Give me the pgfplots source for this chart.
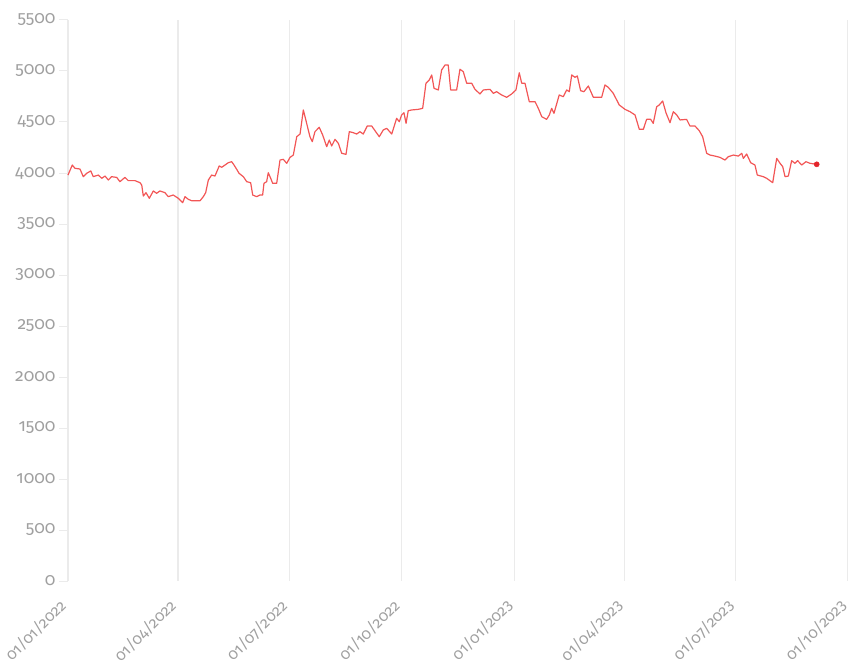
\documentclass[border=0pt]{standalone}
\usepackage{pgfplots}
\pgfplotsset{compat=1.18}
\usepackage{pgfplotstable}
\usepackage{fontspec}
\setmainfont{Fira Sans}[Numbers=OldStyle]
\definecolor{lineRed}{HTML}{F25656}
\definecolor{dotRed}{HTML}{E3242B}
\definecolor{tickGray}{HTML}{A0A0A0}
\definecolor{gridGray}{HTML}{EBEBEB}
\pgfplotstableread{
day value
0 3980
3.5 4078
5.7 4046
9.8 4039
12.5 3964
15.3 3997
18.6 4020
20.7 3964
24.8 3980
27.6 3948
30.3 3970
33.0 3931
35.7 3964
39.8 3957
42.5 3915
46.6 3957
49.3 3925
54.8 3925
58.9 3905
60.3 3882
61.6 3774
63.8 3807
66.5 3752
69.8 3824
72.5 3801
75.2 3824
79.3 3807
82.0 3768
86.1 3784
90.2 3752
93.8 3709
95.7 3768
98.4 3742
101.2 3728
108.0 3728
110.7 3768
112.6 3807
114.8 3931
117.5 3980
120.2 3970
123.7 4069
125.7 4056
128.4 4078
131.1 4101
133.9 4111
135.8 4078
138.0 4036
139.9 3997
143.4 3964
146.2 3915
149.4 3905
151.1 3784
154.3 3768
157.0 3784
159.2 3784
160.3 3899
162.5 3915
163.8 4003
165.8 3948
167.4 3899
170.7 3899
173.4 4127
176.1 4134
178.9 4095
181.6 4153
184.3 4176
187.1 4356
189.8 4382
192.5 4618
195.2 4487
197.9 4356
199.8 4307
202.0 4405
205.5 4448
208.3 4373
211.6 4258
213.7 4323
215.7 4265
218.4 4330
221.1 4291
223.9 4193
227.4 4183
230.1 4405
233.4 4395
236.1 4382
238.8 4405
241.5 4382
244.8 4461
248.4 4461
251.1 4415
254.6 4356
257.9 4422
260.7 4438
264.8 4382
268.8 4536
271.0 4503
272.9 4569
274.8 4591
276.5 4487
278.3 4611
281.1 4618
286.5 4624
290.1 4634
292.8 4880
295.5 4912
297.5 4961
299.4 4830
302.9 4814
305.6 5010
308.4 5059
311.0 5059
313.0 4814
317.9 4814
320.6 5017
323.3 4994
326.1 4880
330.2 4880
332.9 4820
337.0 4775
339.7 4814
345.2 4820
347.9 4781
350.6 4797
354.7 4765
358.8 4742
362.9 4775
366.4 4814
369.1 4983
371.1 4880
373.8 4880
377.3 4699
382.0 4699
384.7 4634
387.5 4552
391.5 4526
393.7 4569
395.6 4634
397.5 4585
401.8 4765
405.1 4748
407.9 4814
410.0 4797
412.0 4961
414.7 4938
416.6 4951
419.3 4807
422.0 4797
425.6 4853
429.7 4742
436.5 4742
439.2 4863
441.9 4840
446.0 4781
450.9 4667
455.6 4624
459.7 4601
463.8 4569
467.3 4428
470.6 4428
473.3 4526
476.6 4526
478.7 4487
481.5 4650
483.6 4667
486.4 4706
489.1 4591
492.4 4493
495.1 4601
497.9 4569
500.6 4520
506.0 4526
508.7 4461
512.8 4461
516.3 4415
519.1 4356
522.4 4193
525.1 4176
529.2 4166
533.3 4153
537.4 4127
540.1 4160
544.2 4176
548.3 4166
551.1 4193
552.4 4143
555.1 4186
558.4 4101
561.9 4078
563.8 3980
568.7 3964
571.5 3948
576.4 3905
579.7 4143
582.4 4095
584.6 4062
586.5 3964
589.2 3970
591.9 4121
594.6 4095
596.8 4121
600.1 4078
603.6 4111
606.9 4095
612.4 4085
}\series
\begin{document}
\begin{tikzpicture}
\begin{axis}[
  scale only axis,
  width=780bp, height=561bp,
  xmin=0, xmax=638, ymin=0, ymax=5500,
  axis lines=left,
  axis line style={gridGray, line width=1pt, -},
  x axis line style={draw=none},
  xtick={0,90,181,273,365,455,546,638},
  xticklabels={01/01/2022,01/04/2022,01/07/2022,01/10/2022,01/01/2023,01/04/2023,01/07/2023,01/10/2023},
  ytick={0,500,...,5500},
  xmajorgrids,
  grid style={gridGray, line width=1.3pt},
  x tick style={draw=none},
  y tick style={gridGray, line width=1pt},
  major tick length=9bp,
  tick align=outside,
  tick label style={text=tickGray},
  y tick label style={font=\fontsize{17.5}{20}\selectfont},
  /pgf/number format/assume math mode=true,
  /pgf/number format/1000 sep={},
  x tick label style={font=\fontsize{15.5}{18}\selectfont, rotate=45, anchor=north east, xshift=-9bp, yshift=5bp},
  clip=false,
]
\addplot[lineRed, line width=1.2pt, line join=round] table[x=day, y=value] {\series};
\addplot[only marks, mark=*, mark size=2.6bp, dotRed] coordinates {(612.4,4085)};
\end{axis}
\pgfresetboundingbox
\path ([xshift=-68bp, yshift=-84bp]current axis.south west) rectangle ([yshift=20bp]current axis.north east);
\end{tikzpicture}
\end{document}
